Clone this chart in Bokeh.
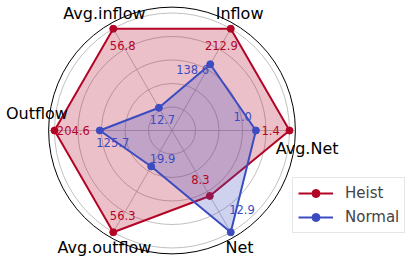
import numpy as np
from bokeh.plotting import figure
from bokeh.models import Range1d, ColumnDataSource, Legend, LegendItem
from bokeh.core.properties import value
from bokeh.embed import file_html
from bokeh.resources import INLINE

# ---- data ----
categories = ["Avg.Net", "Inflow", "Avg.inflow", "Outflow", "Avg.outflow", "Net"]
heist = [1.4, 212.9, 56.8, 204.6, 56.3, 8.3]
normal = [1.0, 138.6, 12.7, 125.7, 19.9, 12.9]
grid_levels = [0.2, 0.4, 0.6, 0.8, 1.0]
r_max = 1.05

HEIST_C = "#b40426"
NORMAL_C = "#3b4cc0"
FONT = "DejaVu Sans"

n = len(categories)
angles = np.arange(n) * 2 * np.pi / n
mx = np.maximum(np.array(heist), np.array(normal))
h_norm = np.array(heist) / mx
n_norm = np.array(normal) / mx

W, H = 412, 258
cx, cy = 171.5, 130.0   # centre in figure pixels
s = 117.5               # pixels per unit radius

p = figure(width=W, height=H, output_backend="svg", toolbar_location=None,
           x_axis_location=None, y_axis_location=None, min_border=0,
           x_range=Range1d(-cx / s, (W - cx) / s),
           y_range=Range1d(-(H - cy) / s, cy / s))
p.grid.visible = False
p.outline_line_color = None
p.background_fill_color = "white"
p.border_fill_color = "white"

# grid circles and spokes
p.circle(x=[0] * len(grid_levels), y=[0] * len(grid_levels), radius=grid_levels,
         fill_color=None, line_color="#b0b0b0", line_width=0.8)
p.segment(x0=[0] * n, y0=[0] * n,
          x1=list(r_max * np.cos(angles)), y1=list(r_max * np.sin(angles)),
          line_color="#b0b0b0", line_width=0.8)
p.circle(x=[0], y=[0], radius=[r_max], fill_color=None, line_color="black", line_width=1)


def series(vals, color):
    xs = list(vals * np.cos(angles))
    ys = list(vals * np.sin(angles))
    p.patch(xs + xs[:1], ys + ys[:1], fill_color=color, fill_alpha=0.25, line_color=None)
    ln = p.line(xs + xs[:1], ys + ys[:1], line_color=color, line_width=2)
    sc = p.scatter(xs, ys, marker="circle", size=7, fill_color=color, line_color=color)
    return ln, sc


h_line, h_sc = series(h_norm, HEIST_C)
n_line, n_sc = series(n_norm, NORMAL_C)

# value labels
hr = h_norm - 0.16
src_h = ColumnDataSource(dict(x=hr * np.cos(angles), y=hr * np.sin(angles),
                              t=[f"{v:.1f}" for v in heist]))
p.text(x="x", y="y", text="t", source=src_h, text_color=HEIST_C,
       text_font=value(FONT), text_font_size="11.5px",
       text_align="center", text_baseline="middle")
nr = n_norm - 0.1
na = angles + 0.2
src_n = ColumnDataSource(dict(x=nr * np.cos(na), y=nr * np.sin(na),
                              t=[f"{v:.1f}" for v in normal]))
p.text(x="x", y="y", text="t", source=src_n, text_color=NORMAL_C,
       text_font=value(FONT), text_font_size="11.5px",
       text_align="center", text_baseline="middle")

# category labels
lr = 1.15
yoff = [17.5 * np.cos(a) if abs(np.sin(a)) < 0.1 else 0.0 for a in angles]
src_c = ColumnDataSource(dict(x=lr * np.cos(angles), y=lr * np.sin(angles),
                              t=categories, yo=yoff))
p.text(x="x", y="y", text="t", source=src_c, y_offset="yo", text_color="black",
       text_font=value(FONT), text_font_size="16px",
       text_align="center", text_baseline="middle")

legend = Legend(items=[LegendItem(label="Heist", renderers=[h_line, h_sc]),
                       LegendItem(label="Normal", renderers=[n_line, n_sc])],
                location=(292, 25), label_text_font=FONT, label_text_font_size="15px",
                glyph_width=35, glyph_height=20, label_height=20, label_standoff=12,
                padding=5, spacing=4, margin=0,
                border_line_color="#cccccc", border_line_width=1,
                background_fill_color="white", background_fill_alpha=0.8)
p.add_layout(legend)

open("out.html", "w").write(file_html(p, INLINE))
